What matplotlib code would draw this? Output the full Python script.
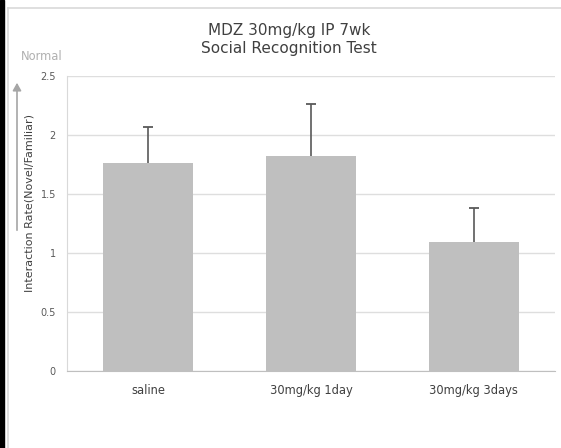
import matplotlib
matplotlib.use("Agg")
import matplotlib.pyplot as plt
from matplotlib.patches import Rectangle, FancyArrowPatch
from matplotlib.lines import Line2D

plt.rcParams['font.family'] = ['DejaVu Sans']

categories = ["saline", "30mg/kg 1day", "30mg/kg 3days"]
means = [1.765, 1.82, 1.09]
errors = [0.305, 0.44, 0.29]
yticks = [0, 0.5, 1, 1.5, 2, 2.5]
ytick_labels = ["0", "0.5", "1", "1.5", "2", "2.5"]

W, H = 561, 448
fig = plt.figure(figsize=(W / 100, H / 100), dpi=100)
fig.patch.set_facecolor("white")

# frame decorations
fig.add_artist(Rectangle((0, 0), 3.5 / W, 1, transform=fig.transFigure, color="black", zorder=0))
fig.add_artist(Line2D([7.5 / W, 7.5 / W], [0, 1 - 8 / H], transform=fig.transFigure, color="#d9d9d9", lw=1.2))
fig.add_artist(Line2D([7.5 / W, 1], [1 - 8 / H, 1 - 8 / H], transform=fig.transFigure, color="#d9d9d9", lw=1.2))

x0, x1 = 67, 555
y0, y1 = 371, 76
ax = fig.add_axes([x0 / W, 1 - y0 / H, (x1 - x0) / W, (y0 - y1) / H])

xs = list(range(len(categories)))
tops = [m + e for m, e in zip(means, errors)]
ax.bar(xs, means, width=0.555, color="#bfbfbf", zorder=2)
ax.vlines(xs, means, tops, color="#595959", lw=1.2, zorder=3)
ax.plot(xs, tops, linestyle="none", marker="_", markersize=6.5, markeredgewidth=1.3,
        color="#595959", zorder=3)

ax.set_xlim(-0.5, len(categories) - 0.5)
ax.set_ylim(0, 2.5)
ax.set_yticks(yticks)
ax.set_yticklabels(ytick_labels)
ax.set_xticks(xs)
ax.set_xticklabels(categories)
ax.yaxis.grid(True, color="#dedede", lw=1)
ax.set_axisbelow(True)
for s in ["top", "right"]:
    ax.spines[s].set_visible(False)
ax.spines["left"].set_color("#d9d9d9")
ax.spines["bottom"].set_color("#bfbfbf")
ax.tick_params(axis="both", length=0)
ax.tick_params(axis="y", labelsize=7, labelcolor="#595959", pad=8)
ax.tick_params(axis="x", labelsize=8.3, labelcolor="#404040", pad=9)

ax.set_ylabel("Interaction Rate(Novel/Familiar)", fontsize=8, color="#404040")
ax.yaxis.label.set_va("center")
ax.yaxis.set_label_coords(30 / W, 1 - 203 / H, transform=fig.transFigure)

fig.text(289 / W, 1 - 30 / H, "MDZ 30mg/kg IP 7wk", ha="center", va="center", fontsize=11, color="#404040")
fig.text(289 / W, 1 - 48 / H, "Social Recognition Test", ha="center", va="center", fontsize=11, color="#404040")

fig.text(41.5 / W, 1 - 57 / H, "Normal", ha="center", va="center", fontsize=8.3, color="#b0b0b0")
fig.add_artist(FancyArrowPatch((17 / W, 1 - 233 / H), (17 / W, 1 - 80 / H), transform=fig.transFigure,
                               arrowstyle="-|>,head_length=4.5,head_width=2.5", color="#a6a6a6", lw=1.2))

fig.savefig("out.png", dpi=100)
